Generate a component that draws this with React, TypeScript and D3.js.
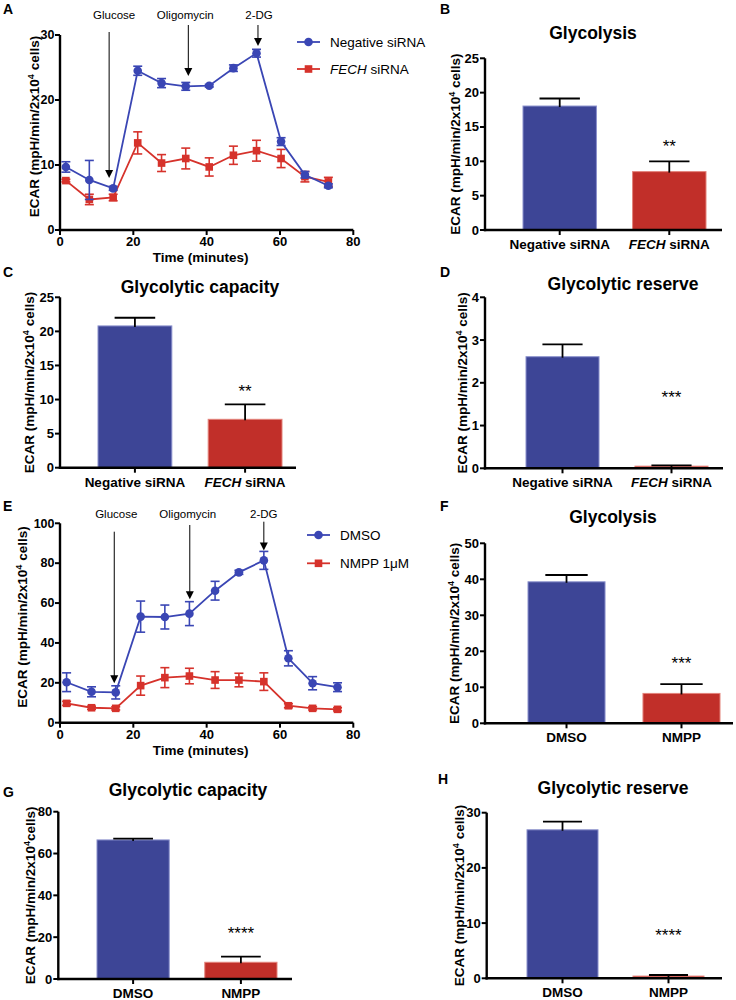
import React from "react";
import * as d3 from "d3";

const FONT = '"Liberation Sans", Arial, Helvetica, sans-serif';
const BLUE_BAR = "#3d4596";
const RED_BAR = "#c12f29";
const BLUE_BAR_EDGE = "#8a90cc";
const RED_BAR_EDGE = "#e3837b";
const BLUE_LINE = "#3a46b4";
const RED_LINE = "#d6322b";

// ---------- Panel A: ECAR time course (siRNA) ----------
const timeA = [1.6, 8.0, 14.5, 21.2, 27.7, 34.3, 40.7, 47.3, 53.6, 60.3, 66.8, 73.2];
const negMean = [9.7, 7.7, 6.4, 24.5, 22.6, 22.1, 22.2, 24.9, 27.2, 13.6, 8.5, 6.8];
const negErr = [0.8, 3.0, 0.3, 0.7, 0.7, 0.6, 0.2, 0.5, 0.6, 0.6, 0.5, 0.3];
const fechMean = [7.6, 4.7, 5.0, 13.4, 10.3, 11.0, 9.7, 11.5, 12.2, 11.0, 8.2, 7.4];
const fechErr = [0.2, 0.8, 0.5, 1.7, 1.3, 1.6, 1.4, 1.4, 1.6, 1.4, 0.8, 0.7];
const injectLabels = ["Glucose", "Oligomycin", "2-DG"];
const injectTimeA = [13.4, 35.0, 54.0];
const injectTipA = [8.0, 23.7, 28.3];
const yTicksA = [0, 10, 20, 30];

// ---------- Panel E: ECAR time course (NMPP) ----------
const timeE = [1.8, 8.6, 15.2, 22.0, 28.6, 35.3, 42.3, 48.8, 55.6, 62.3, 68.9, 75.7];
const dmsoMean = [20.3, 15.5, 15.2, 53.2, 53.0, 54.7, 66.2, 75.4, 81.4, 32.3, 19.8, 17.8];
const dmsoErr = [4.7, 2.5, 3.3, 7.8, 6.0, 6.0, 4.7, 1.0, 4.5, 3.8, 3.3, 2.2];
const nmppMean = [9.7, 7.5, 7.2, 18.6, 22.6, 23.4, 21.4, 21.4, 20.6, 8.5, 7.2, 6.7];
const nmppErr = [1.0, 0.8, 0.8, 4.8, 5.0, 3.9, 4.2, 3.4, 4.4, 1.0, 0.8, 0.8];
const injectTimeE = [14.8, 35.4, 55.6];
const injectTipE = [19.8, 61.9, 86.3];
const yTicksE = [0, 20, 40, 60, 80, 100];
const xTicksTime = [0, 20, 40, 60, 80];

// ---------- Bar panels ----------
const siCatsItalic = ["", "FECH"];
const siCatsText = ["Negative siRNA", " siRNA"];
const drugCatsItalic = ["", ""];
const drugCatsText = ["DMSO", "NMPP"];

const glycolysisSi = [18.05, 8.5];
const glycolysisSiErr = [1.1, 1.5];
const capacitySi = [20.8, 7.1];
const capacitySiErr = [1.2, 2.2];
const reserveSi = [2.61, 0.05];
const reserveSiErr = [0.29, 0.02];
const glycolysisDrug = [39.3, 8.3];
const glycolysisDrugErr = [1.9, 2.6];
const capacityDrug = [66.5, 8.0];
const capacityDrugErr = [0.6, 2.7];
const reserveDrug = [26.9, 0.4];
const reserveDrugErr = [1.5, 0.2];

const ticks25 = [0, 5, 10, 15, 20, 25];
const ticks4 = [0, 1, 2, 3, 4];
const ticks50 = [0, 10, 20, 30, 40, 50];
const ticks80 = [0, 20, 40, 60, 80];
const ticks30 = [0, 10, 20, 30];

function YLabel({ x, y, noSpace }: { x: number; y: number; noSpace?: boolean }) {
  return (
    <text
      transform={`translate(${x},${y}) rotate(-90)`}
      textAnchor="middle"
      fontFamily={FONT}
      fontWeight="bold"
      fontSize={13.5}
    >
      ECAR (mpH/min/2x10
      <tspan dy={-5.5} fontSize={9}>4</tspan>
      <tspan dy={5.5}>{noSpace ? "cells)" : " cells)"}</tspan>
    </text>
  );
}

function Letter({ x, y, t }: { x: number; y: number; t: string }) {
  return (
    <text x={x} y={y} fontFamily={FONT} fontWeight="bold" fontSize={14}>
      {t}
    </text>
  );
}

type Series = { mean: number[]; err: number[]; color: string; shape: string };

function LinePanel(p: any) {
  const x = d3.scaleLinear().domain([0, 80]).range(p.xRange);
  const y = d3.scaleLinear().domain([0, p.yMax]).range(p.yRange);
  const x0 = p.xRange[0];
  const x1 = p.xRange[1];
  const yb = p.yRange[0];
  const yt = p.yRange[1];
  const sw = 2.4;
  return (
    <g>
      {/* axes */}
      <line x1={x0} x2={x0} y1={yt} y2={yb + sw / 2} stroke="#000" strokeWidth={sw} />
      <line x1={x0 - sw / 2} x2={x1} y1={yb} y2={yb} stroke="#000" strokeWidth={sw} />
      {p.yTicks.map((t: number) => (
        <g key={"y" + t}>
          <line x1={x0 - 5} x2={x0} y1={y(t)} y2={y(t)} stroke="#000" strokeWidth={2} />
          <text x={x0 - 5.5} y={y(t) + 4.3} textAnchor="end" fontFamily={FONT} fontWeight="bold" fontSize={12.5}>
            {t}
          </text>
        </g>
      ))}
      {xTicksTime.map((t) => (
        <g key={"x" + t}>
          <line x1={x(t)} x2={x(t)} y1={yb} y2={yb + 5} stroke="#000" strokeWidth={2} />
          <text x={x(t)} y={yb + 16} textAnchor="middle" fontFamily={FONT} fontWeight="bold" fontSize={13}>
            {t}
          </text>
        </g>
      ))}
      <text x={(x0 + x1) / 2 - 6} y={yb + 32} textAnchor="middle" fontFamily={FONT} fontWeight="bold" fontSize={13.5}>
        Time (minutes)
      </text>
      <YLabel x={p.labelX} y={(yt + yb) / 2 - 6} />

      {/* series */}
      {p.series.map((s: Series, si: number) => {
        const line = d3
          .line<number>()
          .x((_, i) => x(p.times[i]))
          .y((d) => y(d));
        return (
          <g key={"s" + si}>
            <path d={line(s.mean) || ""} fill="none" stroke={s.color} strokeWidth={1.8} />
            {s.mean.map((m, i) => {
              const cx = x(p.times[i]);
              const hi = y(m + s.err[i]);
              const lo = y(m - s.err[i]);
              return (
                <g key={i}>
                  <line x1={cx} x2={cx} y1={hi} y2={lo} stroke={s.color} strokeWidth={1.6} />
                  <line x1={cx - 4.5} x2={cx + 4.5} y1={hi} y2={hi} stroke={s.color} strokeWidth={1.6} />
                  <line x1={cx - 4.5} x2={cx + 4.5} y1={lo} y2={lo} stroke={s.color} strokeWidth={1.6} />
                  {s.shape === "circle" ? (
                    <circle cx={cx} cy={y(m)} r={4.3} fill={s.color} />
                  ) : (
                    <rect x={cx - 3.8} y={y(m) - 3.8} width={7.6} height={7.6} fill={s.color} />
                  )}
                </g>
              );
            })}
          </g>
        );
      })}

      {/* injection arrows */}
      {injectLabels.map((lab, i) => {
        const ax = x(p.injectTimes[i]);
        const tip = y(p.injectTips[i]);
        return (
          <g key={"a" + i}>
            <text
              x={ax + p.labelShift[i]}
              y={p.annotY}
              textAnchor="middle"
              fontFamily={FONT}
              fontSize={11.5}
            >
              {lab}
            </text>
            <line x1={ax} x2={ax} y1={p.arrowStart[i]} y2={tip - 6} stroke="#000" strokeWidth={1} />
            <path d={`M${ax - 4},${tip - 8} L${ax + 4},${tip - 8} L${ax},${tip} Z`} fill="#000" />
          </g>
        );
      })}

      {/* legend */}
      {p.legend.map((lg: any, i: number) => {
        const ly = p.legendY + i * p.legendGap;
        const lx = p.legendX;
        return (
          <g key={"l" + i}>
            <line x1={lx} x2={lx + 23} y1={ly} y2={ly} stroke={lg.color} strokeWidth={1.8} />
            {lg.shape === "circle" ? (
              <circle cx={lx + 11.5} cy={ly} r={4.3} fill={lg.color} />
            ) : (
              <rect x={lx + 11.5 - 3.8} y={ly - 3.8} width={7.6} height={7.6} fill={lg.color} />
            )}
            <text x={lx + 33} y={ly + 4.8} fontFamily={FONT} fontSize={13.5}>
              {lg.italic ? <tspan fontStyle="italic">{lg.italic}</tspan> : null}
              {lg.text}
            </text>
          </g>
        );
      })}
    </g>
  );
}

function BarPanel(p: any) {
  const y = d3.scaleLinear().domain([0, p.yMax]).range([p.yBottom, p.yTop]);
  const cats = p.catText.map((t: string, i: number) => p.catItalic[i] + t);
  const x = d3.scaleBand<string>().domain(cats).range(p.barRange).paddingInner(0.33);
  const bw = x.bandwidth();
  const fills = [BLUE_BAR, RED_BAR];
  const edges = [BLUE_BAR_EDGE, RED_BAR_EDGE];
  const sw = 2.4;
  const x0 = p.axisX;
  return (
    <g>
      <text x={p.titleX} y={p.titleY} textAnchor="middle" fontFamily={FONT} fontWeight="bold" fontSize={17.5}>
        {p.title}
      </text>
      {cats.map((c: string, i: number) => (
        <rect
          key={c}
          x={x(c)}
          y={y(p.values[i])}
          width={bw}
          height={y(0) - y(p.values[i])}
          fill={fills[i]}
          stroke={edges[i]}
          strokeWidth={1}
        />
      ))}
      {cats.map((c: string, i: number) => {
        const cx = (x(c) as number) + bw / 2;
        const top = y(p.values[i] + p.errs[i]);
        const cw = bw * 0.55;
        return (
          <g key={"e" + c}>
            <line x1={cx} x2={cx} y1={y(p.values[i]) + 1} y2={top} stroke="#000" strokeWidth={1.8} />
            <line x1={cx - cw / 2} x2={cx + cw / 2} y1={top} y2={top} stroke="#000" strokeWidth={1.8} />
          </g>
        );
      })}
      <text
        x={(x(cats[1]) as number) + bw / 2}
        y={y(p.starVal) + 9.5}
        textAnchor="middle"
        fontFamily={FONT}
        fontSize={17}
      >
        {p.stars}
      </text>
      {/* axes */}
      <line x1={x0} x2={x0} y1={p.yTop} y2={p.yBottom + sw / 2} stroke="#000" strokeWidth={sw} />
      <line x1={x0 - sw / 2} x2={p.axisEnd} y1={p.yBottom} y2={p.yBottom} stroke="#000" strokeWidth={sw} />
      {p.yTicks.map((t: number) => (
        <g key={"y" + t}>
          <line x1={x0 - 5} x2={x0} y1={y(t)} y2={y(t)} stroke="#000" strokeWidth={2} />
          <text x={x0 - 6} y={y(t) + 4.5} textAnchor="end" fontFamily={FONT} fontWeight="bold" fontSize={13}>
            {t}
          </text>
        </g>
      ))}
      {cats.map((c: string, i: number) => {
        const cx = (x(c) as number) + bw / 2;
        return (
          <g key={"x" + c}>
            <line x1={cx} x2={cx} y1={p.yBottom} y2={p.yBottom + 5} stroke="#000" strokeWidth={2} />
            <text x={cx} y={p.yBottom + 19} textAnchor="middle" fontFamily={FONT} fontWeight="bold" fontSize={13.5}>
              {p.catItalic[i] ? <tspan fontStyle="italic">{p.catItalic[i]}</tspan> : null}
              {p.catText[i]}
            </text>
          </g>
        );
      })}
      <YLabel x={p.labelX} y={(p.yTop + p.yBottom) / 2} noSpace={p.noSpace} />
    </g>
  );
}

export default function App() {
  return (
    <svg
      width={736}
      height={1000}
      viewBox="0 0 736 1000"
      style={{ position: "absolute", left: 0, top: 0, background: "#fff" }}
    >
      <rect x={0} y={0} width={736} height={1000} fill="#fff" />
      {/* A */}
      <Letter x={3} y={13.5} t="A" />
      <LinePanel
        xRange={[60, 353.3]}
        yRange={[230, 35]}
        yMax={30}
        yTicks={yTicksA}
        times={timeA}
        series={[
          { mean: fechMean, err: fechErr, color: RED_LINE, shape: "square" },
          { mean: negMean, err: negErr, color: BLUE_LINE, shape: "circle" },
        ]}
        injectTimes={injectTimeA}
        injectTips={injectTipA}
        arrowStart={[32, 25, 25]}
        labelShift={[5, -3, 1]}
        annotY={19}
        labelX={39}
        legendX={297}
        legendY={42}
        legendGap={27}
        legend={[
          { italic: "", text: "Negative siRNA", color: BLUE_LINE, shape: "circle" },
          { italic: "FECH", text: " siRNA", color: RED_LINE, shape: "square" },
        ]}
      />
      {/* B */}
      <Letter x={440} y={13.5} t="B" />
      <BarPanel
        title="Glycolysis"
        titleX={593}
        titleY={39}
        catItalic={siCatsItalic}
        catText={siCatsText}
        values={glycolysisSi}
        errs={glycolysisSiErr}
        stars="**"
        starVal={12.7}
        axisX={485}
        axisEnd={722}
        barRange={[523, 706]}
        yTop={58.3}
        yBottom={230}
        yMax={25}
        yTicks={ticks25}
        labelX={460}
      />
      {/* C */}
      <Letter x={3} y={277} t="C" />
      <BarPanel
        title="Glycolytic capacity"
        titleX={200}
        titleY={293}
        catItalic={siCatsItalic}
        catText={siCatsText}
        values={capacitySi}
        errs={capacitySiErr}
        stars="**"
        starVal={11.7}
        axisX={60}
        axisEnd={296}
        barRange={[98, 282]}
        yTop={297.3}
        yBottom={467.7}
        yMax={25}
        yTicks={ticks25}
        labelX={34}
      />
      {/* D */}
      <Letter x={440} y={277} t="D" />
      <BarPanel
        title="Glycolytic reserve"
        titleX={623}
        titleY={289.5}
        catItalic={siCatsItalic}
        catText={siCatsText}
        values={reserveSi}
        errs={reserveSiErr}
        stars="***"
        starVal={1.74}
        axisX={485}
        axisEnd={723}
        barRange={[526, 708]}
        yTop={297.3}
        yBottom={468.3}
        yMax={4}
        yTicks={ticks4}
        labelX={467}
      />
      {/* E */}
      <Letter x={3} y={510.5} t="E" />
      <LinePanel
        xRange={[60, 353.3]}
        yRange={[722.7, 523.3]}
        yMax={100}
        yTicks={yTicksE}
        times={timeE}
        series={[
          { mean: nmppMean, err: nmppErr, color: RED_LINE, shape: "square" },
          { mean: dmsoMean, err: dmsoErr, color: BLUE_LINE, shape: "circle" },
        ]}
        injectTimes={injectTimeE}
        injectTips={injectTipE}
        arrowStart={[531.7, 525, 521.7]}
        labelShift={[2, -2, 0]}
        annotY={518}
        labelX={27}
        legendX={307}
        legendY={535}
        legendGap={28.3}
        legend={[
          { italic: "", text: "DMSO", color: BLUE_LINE, shape: "circle" },
          { italic: "", text: "NMPP 1\u03bcM", color: RED_LINE, shape: "square" },
        ]}
      />
      {/* F */}
      <Letter x={440} y={510.5} t="F" />
      <BarPanel
        title="Glycolysis"
        titleX={613}
        titleY={522.5}
        catItalic={drugCatsItalic}
        catText={drugCatsText}
        values={glycolysisDrug}
        errs={glycolysisDrugErr}
        stars="***"
        starVal={17.6}
        axisX={485}
        axisEnd={733}
        barRange={[528, 720]}
        yTop={543.3}
        yBottom={723.3}
        yMax={50}
        yTicks={ticks50}
        labelX={459}
      />
      {/* G */}
      <Letter x={3} y={796.5} t="G" />
      <BarPanel
        title="Glycolytic capacity"
        titleX={188}
        titleY={796}
        catItalic={drugCatsItalic}
        catText={drugCatsText}
        values={capacityDrug}
        errs={capacityDrugErr}
        stars="****"
        starVal={23.9}
        axisX={58.3}
        axisEnd={292}
        barRange={[97, 277]}
        yTop={811.7}
        yBottom={979}
        yMax={80}
        yTicks={ticks80}
        labelX={35}
        noSpace={true}
      />
      {/* H */}
      <Letter x={438} y={784} t="H" />
      <BarPanel
        title="Glycolytic reserve"
        titleX={613}
        titleY={794}
        catItalic={drugCatsItalic}
        catText={drugCatsText}
        values={reserveDrug}
        errs={reserveDrugErr}
        stars="****"
        starVal={8.4}
        axisX={486.7}
        axisEnd={722}
        barRange={[527, 704]}
        yTop={812.7}
        yBottom={978.3}
        yMax={30}
        yTicks={ticks30}
        labelX={464}
      />
    </svg>
  );
}
